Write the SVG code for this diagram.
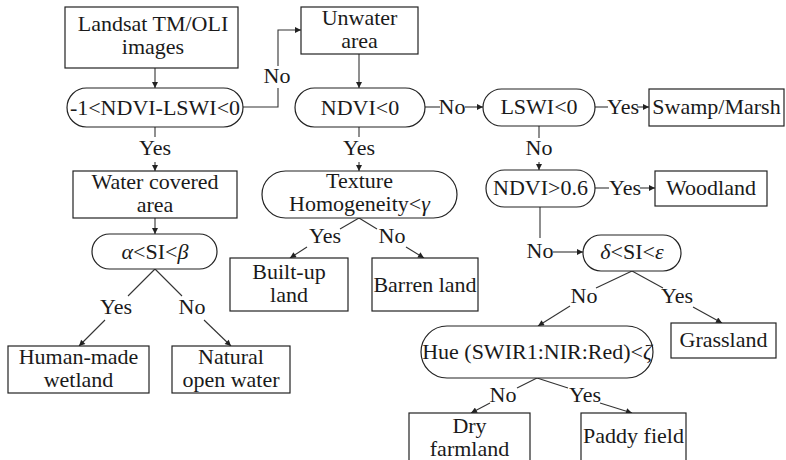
<svg xmlns="http://www.w3.org/2000/svg" width="786" height="460" viewBox="0 0 786 460" font-family="'Liberation Serif', 'Times New Roman', serif">
<defs>
<style>
.b{fill:#fff;stroke:#222;stroke-width:1.2}
.t{font-family:'Liberation Serif','Times New Roman',serif;font-size:22px;fill:#1a1a1a;text-anchor:middle}
.c{fill:none;stroke:#333;stroke-width:1.1}
.a{marker-end:url(#ah)}
.i{font-style:italic}
</style>
<marker id="ah" viewBox="0 0 10 10" refX="10" refY="5" markerWidth="7" markerHeight="6" markerUnits="userSpaceOnUse" orient="auto">
<path d="M0,0 L10,5 L0,10 z" fill="#222"/>
</marker>
</defs>
<rect width="786" height="460" fill="#fff"/>

<g id="connectors">
<line class="c a" x1="155" y1="68" x2="155" y2="88"/>
<polyline class="c" points="243,107 278,107 278,88"/>
<polyline class="c a" points="278,66 278,30 301,30"/>
<line class="c" x1="155" y1="127" x2="155" y2="137"/>
<line class="c a" x1="155" y1="162" x2="155" y2="171"/>
<line class="c a" x1="155" y1="218" x2="155" y2="234"/>
<line class="c" x1="155" y1="269" x2="128" y2="296"/>
<line class="c a" x1="105" y1="320" x2="79" y2="346"/>
<line class="c" x1="155" y1="269" x2="182" y2="296"/>
<line class="c a" x1="204" y1="320" x2="231" y2="346"/>
<line class="c a" x1="359" y1="54" x2="359" y2="88"/>
<line class="c" x1="425" y1="107" x2="440" y2="107"/>
<line class="c a" x1="465" y1="107" x2="483" y2="107"/>
<line class="c" x1="359" y1="127" x2="359" y2="137"/>
<line class="c a" x1="359" y1="162" x2="359" y2="171"/>
<line class="c" x1="359" y1="218" x2="340" y2="229"/>
<line class="c a" x1="307" y1="247" x2="290" y2="258"/>
<line class="c" x1="359" y1="218" x2="377" y2="229"/>
<line class="c a" x1="406" y1="247" x2="424" y2="258"/>
<line class="c" x1="595" y1="107" x2="608" y2="107"/>
<line class="c a" x1="637" y1="107" x2="649" y2="107"/>
<line class="c" x1="539" y1="126" x2="539" y2="138"/>
<line class="c a" x1="539" y1="162" x2="539" y2="170"/>
<line class="c" x1="595" y1="188" x2="609" y2="188"/>
<line class="c a" x1="640" y1="188" x2="655" y2="188"/>
<line class="c" x1="540" y1="207" x2="540" y2="238"/>
<line class="c a" x1="553" y1="252" x2="583" y2="252"/>
<line class="c" x1="632" y1="271" x2="596" y2="288"/>
<line class="c a" x1="570" y1="306" x2="538" y2="326"/>
<line class="c" x1="632" y1="271" x2="663" y2="288"/>
<line class="c a" x1="693" y1="307" x2="722" y2="323"/>
<line class="c" x1="537" y1="378" x2="517" y2="388"/>
<line class="c a" x1="490" y1="403" x2="471" y2="413"/>
<line class="c" x1="537" y1="378" x2="568" y2="388"/>
<line class="c a" x1="600" y1="403" x2="632" y2="413"/>
<g class="t">
<text x="277" y="83">No</text>
<text x="155" y="155">Yes</text>
<text x="116" y="314">Yes</text>
<text x="192" y="314">No</text>
<text x="452" y="114">No</text>
<text x="359" y="155">Yes</text>
<text x="325" y="243">Yes</text>
<text x="392" y="243">No</text>
<text x="623" y="114">Yes</text>
<text x="539" y="155">No</text>
<text x="625" y="195">Yes</text>
<text x="540" y="258">No</text>
<text x="584" y="303">No</text>
<text x="677" y="303">Yes</text>
<text x="503" y="402">No</text>
<text x="585" y="402">Yes</text>
</g>
</g>

<g id="landsat"><rect class="b" x="65" y="7" width="173" height="61"/><text class="t" x="153" y="31">Landsat TM/OLI</text><text class="t" x="153" y="54">images</text></g>
<g id="cond-ndvi-lswi"><rect class="b" x="67" y="88" width="176" height="39" rx="19.5"/><text class="t" x="155" y="115">-1&lt;NDVI-LSWI&lt;0</text></g>
<g id="water-covered"><rect class="b" x="73" y="171" width="164" height="47"/><text class="t" x="155" y="189">Water covered</text><text class="t" x="155" y="212">area</text></g>
<g id="cond-si-water"><rect class="b" x="92" y="234" width="125" height="35" rx="17.5"/><text class="t" x="155" y="259"><tspan class="i">α</tspan>&lt;SI&lt;<tspan class="i">β</tspan></text></g>
<g id="human-made"><rect class="b" x="8" y="346" width="141" height="47"/><text class="t" x="78.5" y="364">Human-made</text><text class="t" x="78.5" y="387">wetland</text></g>
<g id="natural-water"><rect class="b" x="172" y="346" width="118" height="47"/><text class="t" x="231" y="364">Natural</text><text class="t" x="231" y="387">open water</text></g>
<g id="unwater"><rect class="b" x="301" y="7" width="117" height="47"/><text class="t" x="359.5" y="25">Unwater</text><text class="t" x="359.5" y="48">area</text></g>
<g id="cond-ndvi"><rect class="b" x="295" y="88" width="130" height="39" rx="19.5"/><text class="t" x="360" y="115">NDVI&lt;0</text></g>
<g id="cond-texture"><rect class="b" x="262" y="171" width="195" height="47" rx="23.5"/><text class="t" x="359.5" y="188">Texture</text><text class="t" x="359.5" y="211">Homogeneity&lt;<tspan class="i">γ</tspan></text></g>
<g id="built-up"><rect class="b" x="230" y="258" width="118" height="53"/><text class="t" x="289" y="279">Built-up</text><text class="t" x="289" y="302">land</text></g>
<g id="barren"><rect class="b" x="372" y="258" width="106" height="53"/><text class="t" x="425" y="292">Barren land</text></g>
<g id="cond-lswi"><rect class="b" x="483" y="89" width="112" height="37" rx="18.5"/><text class="t" x="539" y="114">LSWI&lt;0</text></g>
<g id="swamp"><rect class="b" x="649" y="89" width="135" height="37"/><text class="t" x="716.5" y="114">Swamp/Marsh</text></g>
<g id="cond-ndvi-06"><rect class="b" x="486" y="170" width="109" height="37" rx="18.5"/><text class="t" x="540.5" y="195">NDVI&gt;0.6</text></g>
<g id="woodland"><rect class="b" x="655" y="171" width="112" height="35"/><text class="t" x="711" y="195">Woodland</text></g>
<g id="cond-si-land"><rect class="b" x="583" y="235" width="98" height="36" rx="18"/><text class="t" x="632" y="259"><tspan class="i">δ</tspan>&lt;SI&lt;<tspan class="i">ε</tspan></text></g>
<g id="grassland"><rect class="b" x="671" y="323" width="105" height="35"/><text class="t" x="723.5" y="347">Grassland</text></g>
<g id="cond-hue"><rect class="b" x="421" y="326" width="232" height="52" rx="26"/><text class="t" x="537" y="359">Hue (SWIR1:NIR:Red)&lt;<tspan class="i">ζ</tspan></text></g>
<g id="dry-farmland"><rect class="b" x="409" y="413" width="121" height="52"/><text class="t" x="469.5" y="433">Dry</text><text class="t" x="469.5" y="456">farmland</text></g>
<g id="paddy"><rect class="b" x="581" y="413" width="105" height="52"/><text class="t" x="633.5" y="443">Paddy field</text></g>
</svg>
